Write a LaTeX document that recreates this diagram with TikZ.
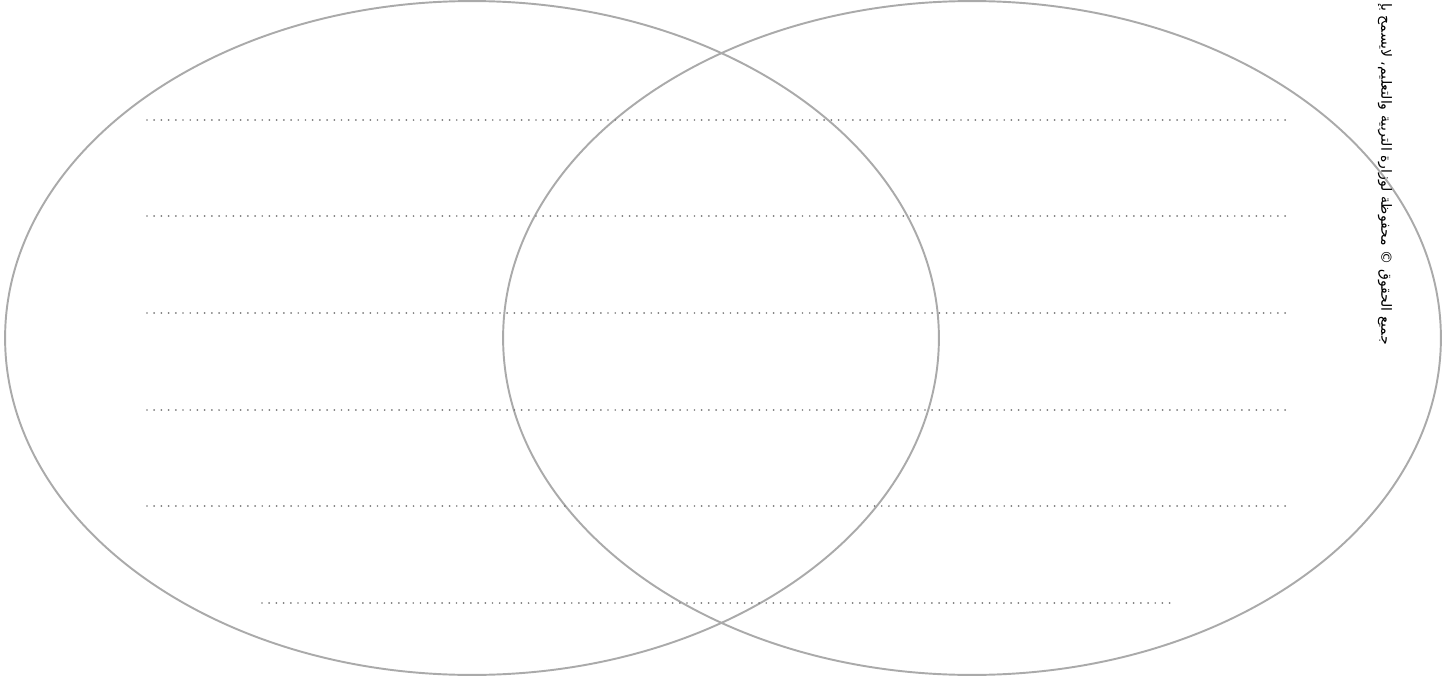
\documentclass[tikz,border=0pt]{standalone}
\usepackage{fontspec}
\newfontfamily\arabicfont[Script=Arabic]{DejaVu Sans}
\TeXXeTstate=1
\usepackage{xcolor}
\definecolor{ringgray}{HTML}{AAAAAA}
\definecolor{dotgray}{HTML}{7A7A7A}

\begin{document}
\begin{tikzpicture}[
    x=0.02cm, y=-0.02cm,
    ring/.style={draw=ringgray, line width=1.1pt},
    writeline/.style={draw=dotgray, line width=1.1pt, line cap=round, dash pattern=on 0pt off 4.1pt}
]
    \useasboundingbox (0,0) rectangle (1451,676);
    \clip (0,0) rectangle (1451,676);

    % two overlapping sets
    \draw[ring] (472,338) ellipse [x radius=9.34cm, y radius=6.74cm];
    \draw[ring] (972,338) ellipse [x radius=9.38cm, y radius=6.74cm];

    % lines to write on
    \foreach \yy in {120,216,313,410,506}
        \draw[writeline] (147,\yy) -- (1290,\yy);
    \draw[writeline] (262,603) -- (1175,603);

    % copyright note, running down the right edge
    \node[rotate=-90, anchor=east, inner sep=0pt, font=\arabicfont\fontsize{8}{10}\selectfont] (note) at (1385,345)
        {\beginR جميع الحقوق © محفوظة لوزارة التربية والتعليم، لايسمح بإ\endR};
\end{tikzpicture}
\end{document}
